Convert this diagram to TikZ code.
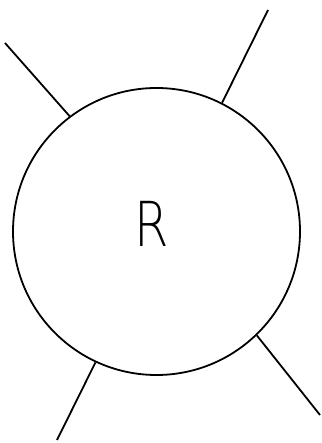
\documentclass[tikz,border=0pt]{standalone}
\usepackage{fontspec}
\newfontfamily\rfont{DejaVu Sans ExtraLight}
\tikzset{
  ring/.style={circle, draw, line width=1.8pt, minimum size=287pt, inner sep=0pt},
  leg/.style={line width=1.8pt},
  lbl/.style={font=\rfont\fontsize{62}{62}\selectfont, xscale=0.8, inner sep=0pt}
}
\begin{document}
\begin{tikzpicture}[x=1pt,y=1pt]
\useasboundingbox (0,0) rectangle (321,443);
\node[ring] (c) at (156.5,211.5) {};
\node[lbl] (r) at (152,219) {R};
\coordinate (ul) at (5,400);
\coordinate (ur) at (268,433);
\coordinate (lr) at (320,28);
\coordinate (ll) at (57,3);
\draw[leg] (c.127.7) -- (ul);
\draw[leg] (c.63) -- (ur);
\draw[leg] (c.-46.4) -- (lr);
\draw[leg] (c.-115.2) -- (ll);
\end{tikzpicture}
\end{document}
